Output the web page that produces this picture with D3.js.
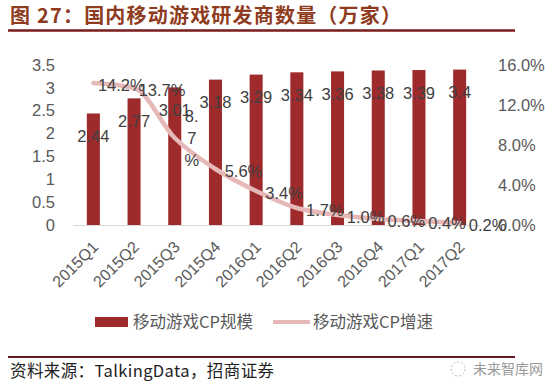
<!DOCTYPE html>
<html>
<head>
<meta charset="utf-8">
<script src="https://cdn.jsdelivr.net/npm/d3@7"></script>
<style>
  body { margin: 0; background: #fff; }
  svg text { font-family: "Liberation Sans", Arial, "Noto Sans CJK SC", sans-serif; }
</style>
</head>
<body>
<div id="container"></div>
<script>
// chart data
const quarters = ["2015Q1", "2015Q2", "2015Q3", "2015Q4", "2016Q1", "2016Q2", "2016Q3", "2016Q4", "2017Q1", "2017Q2"];
const cpCount = [2.44, 2.77, 3.01, 3.18, 3.29, 3.34, 3.36, 3.38, 3.39, 3.4];
const cpGrowth = [0.142, 0.137, 0.087, 0.056, 0.034, 0.017, 0.010, 0.006, 0.004, 0.002];
const leftTicks = [0, 0.5, 1, 1.5, 2, 2.5, 3, 3.5];
const rightTicks = [0, 0.04, 0.08, 0.12, 0.16];
const seriesNames = ["移动游戏CP规模", "移动游戏CP增速"];

const width = 557;
const height = 391;
const marginTop = 65;
const marginBottom = 166; // baseline at y=225
const marginLeft = 73;
const marginRight = 77;

const barColor = "#9e2a2b";
const lineColor = "#e6b9b8";

const svg = d3.select("#container")
    .append("svg")
    .attr("width", width)
    .attr("height", height);

// title + rule
svg.append("text")
    .attr("x", 10)
    .attr("y", 23)
    .attr("font-size", 20)
    .attr("font-weight", "bold")
    .attr("letter-spacing", 1.2)
    .attr("fill", "#8e3b20")
    .style("font-family", "'Noto Sans CJK SC', sans-serif")
    .text("图 27：国内移动游戏研发商数量（万家）");

svg.append("line")
    .attr("x1", 8).attr("x2", 515)
    .attr("y1", 30.5).attr("y2", 30.5)
    .attr("stroke", "#7b1c1c")
    .attr("stroke-width", 2.5);

const x = d3.scaleBand()
    .domain(quarters)
    .range([marginLeft, width - marginRight])
    .paddingInner(0.68)
    .paddingOuter(0.34);

const y = d3.scaleLinear()
    .domain([0, 3.5])
    .range([height - marginBottom, marginTop]);

const y2 = d3.scaleLinear()
    .domain([0, 0.16])
    .range([height - marginBottom, marginTop]);

// left axis
svg.append("g")
    .attr("transform", `translate(${marginLeft - 18},0)`)
    .call(d3.axisLeft(y).tickValues(leftTicks).tickFormat(d => String(d)).tickSize(0))
    .call(g => g.select(".domain").remove())
    .call(g => g.selectAll("text")
        .attr("font-size", 16.5)
        .attr("fill", "#595959")
        .attr("x", 0));

// right axis
svg.append("g")
    .attr("transform", `translate(${width - marginRight + 18},0)`)
    .call(d3.axisRight(y2).tickValues(rightTicks).tickFormat(d3.format(".1%")).tickSize(0))
    .call(g => g.select(".domain").remove())
    .call(g => g.selectAll("text")
        .attr("font-size", 16.5)
        .attr("fill", "#595959")
        .attr("x", 0));

// bottom axis
svg.append("g")
    .attr("transform", `translate(0,${height - marginBottom})`)
    .call(d3.axisBottom(x).tickSize(0).tickPadding(0))
    .call(g => g.select(".domain")
        .attr("stroke", "#d9d9d9")
        .attr("d", `M${marginLeft},0.5H${width - marginRight}`))
    .call(g => g.selectAll("text")
        .attr("font-size", 16)
        .attr("fill", "#595959")
        .attr("text-anchor", "end")
        .attr("dy", null)
        .attr("y", 0)
        .attr("transform", "translate(6,23) rotate(-45)"));

// bars
svg.append("g")
    .selectAll("rect")
    .data(cpCount)
    .join("rect")
    .attr("x", (d, i) => x(quarters[i]))
    .attr("y", d => y(d))
    .attr("width", x.bandwidth())
    .attr("height", d => y(0) - y(d))
    .attr("fill", barColor);

// growth line (smoothed)
const line = d3.line()
    .x((d, i) => x(quarters[i]) + x.bandwidth() / 2)
    .y(d => y2(d))
    .curve(d3.curveMonotoneX);

svg.append("path")
    .datum(cpGrowth)
    .attr("d", line)
    .attr("fill", "none")
    .attr("stroke", lineColor)
    .attr("stroke-width", 4.5)
    .attr("stroke-linecap", "round");

// bar labels
svg.append("g")
    .selectAll("text")
    .data(cpCount)
    .join("text")
    .attr("x", (d, i) => x(quarters[i]) + x.bandwidth() / 2)
    .attr("y", d => y(d) + 23)
    .attr("dy", "0.35em")
    .attr("text-anchor", "middle")
    .attr("font-size", 16.5)
    .attr("fill", "#404040")
    .text(d => d);

// growth labels (the 8.7% one wraps in the original)
const fmtPct = d3.format(".1%");
svg.append("g")
    .selectAll("text")
    .data(cpGrowth)
    .join("text")
    .attr("text-anchor", "middle")
    .attr("font-size", 16.5)
    .attr("fill", "#404040")
    .each(function (d, i) {
        const t = d3.select(this);
        const cx = x(quarters[i]) + x.bandwidth() / 2;
        const cy = y2(d);
        if (i === 2) {
            const parts = ["8.", "7", "%"];
            parts.forEach((p, k) => {
                t.append("tspan")
                    .attr("x", cx + 17)
                    .attr("y", cy + (k - 1) * 22)
                    .attr("dy", "0.35em")
                    .text(p);
            });
        } else {
            t.attr("x", cx + 28)
                .attr("y", cy + 2)
                .attr("dy", "0.35em")
                .text(fmtPct(d));
        }
    });

// legend
const legend = svg.append("g")
    .attr("font-size", 16.5)
    .attr("fill", "#595959");

legend.append("rect")
    .attr("x", 95).attr("y", 317)
    .attr("width", 33).attr("height", 10)
    .attr("fill", barColor);
legend.append("text")
    .attr("x", 133).attr("y", 322)
    .attr("dy", "0.35em")
    .style("font-family", "'Noto Sans CJK SC', sans-serif")
    .text(seriesNames[0]);

legend.append("line")
    .attr("x1", 273).attr("x2", 310)
    .attr("y1", 322).attr("y2", 322)
    .attr("stroke", lineColor)
    .attr("stroke-width", 4);
legend.append("text")
    .attr("x", 313).attr("y", 322)
    .attr("dy", "0.35em")
    .style("font-family", "'Noto Sans CJK SC', sans-serif")
    .text(seriesNames[1]);

// source rule + text
svg.append("line")
    .attr("x1", 8).attr("x2", 515)
    .attr("y1", 357).attr("y2", 357)
    .attr("stroke", "#5e1a1f")
    .attr("stroke-width", 2);

svg.append("text")
    .attr("x", 10)
    .attr("y", 371)
    .attr("dy", "0.35em")
    .attr("font-size", 16.5)
    .attr("letter-spacing", 0.4)
    .attr("fill", "#222")
    .style("font-family", "'Noto Sans CJK SC', sans-serif")
    .text("资料来源：TalkingData，招商证券");

// watermark
svg.append("circle")
    .attr("cx", 458).attr("cy", 369)
    .attr("r", 7)
    .attr("fill", "none")
    .attr("stroke", "#bbb")
    .attr("stroke-dasharray", "2,2");
svg.append("text")
    .attr("x", 473)
    .attr("y", 369)
    .attr("dy", "0.35em")
    .attr("font-size", 14)
    .attr("fill", "#999")
    .style("font-family", "'Noto Sans CJK SC', sans-serif")
    .text("未来智库网");
</script>
</body>
</html>
